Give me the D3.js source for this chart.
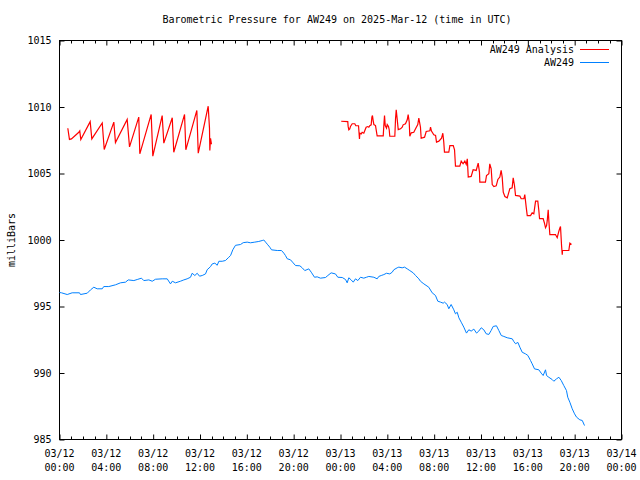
<!DOCTYPE html>
<html><head><meta charset="utf-8">
<script src="https://cdn.jsdelivr.net/npm/d3@7"></script>
<style>
body{margin:0;background:#fff;}
text{font-family:"DejaVu Sans Mono","Liberation Mono",monospace;font-size:10px;fill:#000;}
</style></head>
<body><svg id="c" width="640" height="480"></svg>
<script>
// hours since 2025-03-12 00:00 UTC
const analysisHours1 = [0.71,0.85,1.02,1.65,1.73,1.82,2.62,2.76,3.65,3.82,4.64,4.78,5.78,5.98,6.77,6.86,7.83,7.97,8.77,8.91,9.63,9.76,10.68,10.79,11.73,11.85,12.70,12.81,12.84,12.90,12.98];
const analysisVals1 = [1008.4,1007.56,1007.6,1008.1,1008.2,1007.55,1008.9,1007.6,1008.8,1006.8,1008.86,1007.33,1009.06,1007.0,1009.24,1006.48,1009.44,1006.3,1009.36,1007.28,1009.19,1006.6,1009.44,1006.78,1009.74,1006.53,1010.06,1008.41,1006.73,1007.65,1007.2];
const analysisHours2 = [24.06,24.62,24.65,24.71,24.79,24.85,25.0,25.22,25.31,25.54,25.62,25.65,25.77,25.85,25.99,26.08,26.19,26.33,26.42,26.5,26.62,26.68,26.73,26.79,26.85,26.99,27.13,27.65,27.7,27.76,27.82,27.93,27.99,28.1,28.16,28.21,28.64,28.7,28.76,28.84,28.93,29.13,29.27,29.35,29.55,29.7,29.78,29.87,29.92,30.04,30.26,30.41,30.6,30.69,30.83,30.89,31.18,31.32,31.63,31.69,31.77,31.97,32.12,32.2,32.4,32.63,32.74,32.82,32.88,33.25,33.34,33.63,33.74,33.82,34.19,34.31,34.47,34.62,34.74,34.83,34.91,35.16,35.33,35.59,35.76,35.87,35.9,36.38,36.47,36.67,36.75,36.87,36.96,37.1,37.3,37.44,37.61,37.72,37.81,37.9,38.04,38.24,38.38,38.46,38.66,38.75,38.86,38.95,39.32,39.43,39.66,39.74,39.86,39.95,40.23,40.37,40.51,40.66,40.85,40.94,41.0,41.31,41.42,41.51,41.6,41.66,41.74,41.79,41.88,42.36,42.51,42.65,42.73,42.79,42.88,42.94,42.96,43.5,43.59,43.73];
const analysisVals2 = [1008.93,1008.9,1008.56,1008.29,1008.36,1008.53,1008.74,1008.74,1008.59,1008.59,1007.6,1008.03,1007.98,1008.1,1008.03,1008.23,1008.48,1008.53,1008.48,1008.59,1008.66,1009.24,1009.36,1008.98,1008.68,1008.6,1007.83,1007.83,1008.6,1009.36,1008.6,1008.41,1008.68,1008.53,1008.29,1007.8,1007.8,1009.11,1009.79,1009.11,1008.3,1008.36,1008.48,1008.66,1008.74,1009.04,1009.43,1008.86,1007.8,1008.06,1008.1,1008.36,1008.68,1009.16,1008.48,1007.65,1007.73,1008.16,1008.21,1008.48,1008.19,1007.91,1007.86,1007.36,1007.43,1007.66,1008.03,1007.36,1006.6,1006.6,1007.1,1007.1,1006.78,1005.55,1005.55,1005.93,1005.73,1005.93,1005.68,1006.1,1004.73,1004.78,1005.28,1005.23,1005.78,1005.1,1004.35,1004.35,1004.85,1004.98,1005.73,1005.35,1004.17,1004.02,1004.07,1004.55,1004.73,1005.23,1004.73,1003.6,1003.27,1003.17,1003.6,1003.85,1003.92,1004.68,1004.1,1003.35,1003.3,1003.1,1003.1,1003.42,1002.47,1001.84,1001.84,1002.04,1001.97,1002.92,1002.92,1002.22,1001.6,1001.6,1001.27,1000.92,1001.09,1001.47,1002.27,1001.52,1000.41,1000.41,1000.17,1000.66,1000.89,1001.02,999.59,998.89,999.21,999.21,999.76,999.66];
const obsHours = [0,0.17,0.66,1.08,1.71,1.79,2.37,2.65,2.93,3.22,3.65,3.78,4.21,4.78,5.21,5.64,5.87,6.35,6.64,7.0,7.2,7.63,7.92,8.2,8.77,9.2,9.48,9.63,9.91,10.33,10.62,10.9,11.19,11.33,11.56,11.76,11.96,12.19,12.47,12.61,12.9,13.04,13.27,13.47,13.61,13.9,14.18,14.41,14.61,14.8,15.03,15.46,15.69,16.03,16.31,16.68,17.02,17.31,17.45,17.6,17.79,17.96,18.11,18.6,18.96,19.16,19.3,19.45,19.73,19.96,20.16,20.53,20.73,20.95,21.29,21.5,21.78,22.01,22.29,22.72,22.92,23.2,23.57,23.77,24.15,24.43,24.57,24.71,24.91,25.09,25.28,25.48,25.71,25.99,26.22,26.42,26.85,27.13,27.27,27.48,27.7,27.93,28.21,28.42,28.55,28.84,28.98,29.27,29.47,29.7,29.92,30.21,30.41,30.69,30.83,31.12,31.54,31.83,32.11,32.31,32.54,32.77,32.88,33.11,33.25,33.45,33.68,33.82,33.97,34.11,34.31,34.53,34.76,34.96,35.16,35.39,35.62,35.81,36.02,36.24,36.44,36.67,36.87,37.04,37.32,37.52,37.73,37.95,38.24,38.67,38.8,38.95,39.15,39.32,39.52,39.8,40.0,40.23,40.37,40.57,40.94,41.14,41.31,41.51,41.6,41.79,42.08,42.22,42.45,42.65,42.85,43.07,43.3,43.41,43.59,43.79,43.99,44.16,44.44,44.65,44.84];
const obsVals = [996.05,996.03,995.9,996.03,996.03,995.9,996.0,996.25,996.45,996.33,996.33,996.5,996.5,996.63,996.78,996.83,997.0,996.95,997.03,997.13,996.95,997.0,996.9,997.05,997.08,997.08,996.7,996.9,996.78,996.9,997.0,997.08,997.2,997.5,997.33,997.5,997.28,997.33,997.45,997.76,998.0,998.2,998.26,998.1,998.4,998.4,998.46,998.66,998.83,999.26,999.6,999.66,999.8,999.84,999.79,999.84,999.89,999.96,1000.0,999.84,999.64,999.46,999.26,999.21,999.21,999.01,998.83,998.59,998.51,998.28,998.08,998.06,997.91,997.7,997.83,997.58,997.2,997.23,997.13,997.18,997.33,997.53,997.45,997.2,997.18,997.03,996.78,997.16,997.0,996.83,997.08,996.95,997.2,997.13,997.2,997.26,997.2,997.08,997.26,997.33,997.4,997.5,997.45,997.58,997.76,997.91,997.96,997.91,997.96,997.83,997.7,997.53,997.33,997.08,996.9,996.7,996.45,996.03,995.83,995.4,995.33,995.25,995.33,995.15,994.83,995.15,994.75,994.45,994.57,994.15,993.82,993.45,993.0,993.25,993.15,993.3,993.0,993.15,993.4,993.25,992.95,992.9,993.2,993.5,993.55,993.2,992.82,992.75,992.65,992.57,992.37,992.2,992.3,991.94,991.56,991.44,991.32,990.94,990.69,990.31,990.24,989.99,989.81,990.24,989.81,989.68,989.51,989.38,989.56,989.68,989.44,989.06,988.68,988.18,987.8,987.31,986.93,986.68,986.48,986.43,986.05];
const xTickHours = [0,4,8,12,16,20,24,28,32,36,40,44,48];
const xTickLabels = [["03/12","00:00"],["03/12","04:00"],["03/12","08:00"],["03/12","12:00"],["03/12","16:00"],["03/12","20:00"],["03/13","00:00"],["03/13","04:00"],["03/13","08:00"],["03/13","12:00"],["03/13","16:00"],["03/13","20:00"],["03/14","00:00"]];
const yTicks = [985,990,995,1000,1005,1010,1015];
const seriesNames = ["AW249 Analysis","AW249"];
const seriesColors = ["#ff0000","#0080ff"];
const titleText = "Barometric Pressure for AW249 on 2025-Mar-12 (time in UTC)";
const yLabel = "milliBars";

const base = Date.UTC(2025,2,12,0,0);
const toDate = h => new Date(base + h*3600000);
const L=59.5, R=621.5, T=40.5, B=439.5;
const svg = d3.select("#c");
const x = d3.scaleUtc().domain([toDate(0), toDate(48)]).range([L,R]);
const y = d3.scaleLinear().domain([985,1015]).range([B,T]);

// minor ticks every hour
const minorHours = d3.range(0,49).filter(h=>h%4!==0);
const g = svg.append("g");
function addTicks(hours,len){
  hours.forEach(h=>{
    const xx=Math.round(x(toDate(h)))+0.5;
    g.append("line").attr("x1",xx).attr("x2",xx).attr("y1",B).attr("y2",B-len).attr("stroke","#000");
    g.append("line").attr("x1",xx).attr("x2",xx).attr("y1",T).attr("y2",T+len).attr("stroke","#000");
  });
}
addTicks(minorHours,3);
// major x axis
const xAxis = d3.axisBottom(x).tickValues(xTickHours.map(toDate)).tickSize(-5).tickFormat("");
const xa = svg.append("g").attr("transform",`translate(0,${B})`).call(xAxis);
xa.select(".domain").remove();
const xat = svg.append("g").attr("transform",`translate(0,${T})`).call(d3.axisTop(x).tickValues(xTickHours.map(toDate)).tickSize(-5).tickFormat(""));
xat.select(".domain").remove();
xTickHours.forEach((h,i)=>{
  const t = svg.append("text").attr("text-anchor","middle").attr("x",x(toDate(h)));
  t.append("tspan").attr("x",x(toDate(h))).attr("y",457).text(xTickLabels[i][0]);
  t.append("tspan").attr("x",x(toDate(h))).attr("y",471).text(xTickLabels[i][1]);
});
// y axes
const ya = svg.append("g").attr("transform",`translate(${L},0)`).call(d3.axisLeft(y).tickValues(yTicks).tickSize(-5).tickPadding(8).tickFormat(d3.format("d")));
ya.select(".domain").remove();
ya.selectAll("text").style("font-size","10px").style("font-family","DejaVu Sans Mono");
const yr = svg.append("g").attr("transform",`translate(${R},0)`).call(d3.axisRight(y).tickValues(yTicks).tickSize(-5).tickFormat(""));
yr.select(".domain").remove();
svg.selectAll(".tick line").attr("stroke","#000");
// frame
svg.append("rect").attr("x",L).attr("y",T).attr("width",R-L).attr("height",B-T).attr("fill","none").attr("stroke","#000");

const line = d3.line().x(d=>x(toDate(d[0]))).y(d=>y(d[1]));
const plot = svg.append("g");
plot.append("path").datum(obsHours.map((h,i)=>[h,obsVals[i]])).attr("d",line).attr("fill","none").attr("stroke",seriesColors[1]).attr("stroke-width",1);
plot.append("path").datum(analysisHours1.map((h,i)=>[h,analysisVals1[i]])).attr("d",line).attr("fill","none").attr("stroke",seriesColors[0]).attr("stroke-width",1.2);
plot.append("path").datum(analysisHours2.map((h,i)=>[h,analysisVals2[i]])).attr("d",line).attr("fill","none").attr("stroke",seriesColors[0]).attr("stroke-width",1.2);

// title & labels
svg.append("text").attr("x",337).attr("y",23).attr("text-anchor","middle").text(titleText);
svg.append("text").attr("transform","translate(15,240) rotate(-90)").attr("text-anchor","middle").text(yLabel);
// legend
seriesNames.forEach((n,i)=>{
  const yy = 53 + i*13;
  svg.append("text").attr("x",574).attr("y",yy).attr("text-anchor","end").text(n);
  svg.append("line").attr("x1",580).attr("x2",609).attr("y1",yy-3.5).attr("y2",yy-3.5).attr("stroke",seriesColors[i]).attr("stroke-width",1);
});
</script></body></html>
